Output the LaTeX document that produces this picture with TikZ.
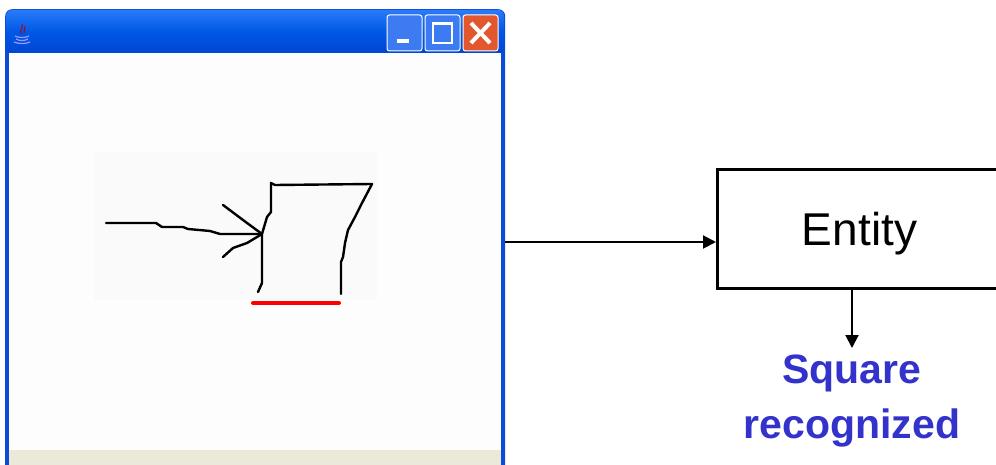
\documentclass[tikz,border=0pt]{standalone}
\usepackage{fontspec}
\setmainfont{Liberation Sans}
\usetikzlibrary{arrows.meta}
\definecolor{xpframe}{HTML}{0A4BD8}
\definecolor{xptop}{HTML}{2A7BFA}
\definecolor{xpmid}{HTML}{0058E6}
\definecolor{xpbot}{HTML}{0046D2}
\definecolor{xpclose}{HTML}{E2572E}
\definecolor{xpbtn}{HTML}{3D7BF2}
\definecolor{client}{HTML}{FDFDFD}
\definecolor{canvasbg}{HTML}{FAFAFA}
\definecolor{statusbg}{HTML}{ECE9D8}
\definecolor{labelblue}{HTML}{3333CC}
\tikzset{
  ink/.style={line width=2.4pt, line join=round, line cap=round, black},
  flow/.style={line width=2pt, -{Triangle[length=13pt,width=13pt]}},
  titlebtn/.style={draw=white, line width=1pt, rounded corners=2.5pt},
}
\begin{document}
\begin{tikzpicture}[x=1pt,y=-1pt]
\useasboundingbox (0,0) rectangle (996,465);
\clip (0,0) rectangle (996,465);
\fill[white] (0,0) rectangle (996,465);

% application window
\node[fill=xpframe, rounded corners=7pt, minimum width=500pt, minimum height=470pt,
      anchor=north west, inner sep=0pt] (win) at (5,9) {};
\shade[top color=xptop, bottom color=xpbot, middle color=xpmid, rounded corners=6pt]
  (6,53) -- (6,10) -- (504,10) -- (504,53) -- cycle;
\fill[client] (9,53) rectangle (501,470);
\fill[statusbg] (9,450) rectangle (501,470);

% title bar buttons
\fill[xpbtn, titlebtn] (387,15) rectangle (422,51);
\fill[white] (397,39) rectangle (409,43);
\fill[xpbtn, titlebtn] (425,15) rectangle (460,51);
\draw[white, line width=2pt] (433,23) rectangle (452,43);
\draw[white, line width=1pt] (433,25) -- (452,25);
\fill[xpclose, titlebtn] (463,15) rectangle (498,51);
\draw[white, line width=4pt] (471,23) -- (490,43) (490,23) -- (471,43);

% cup icon
\draw[red!70!black, line width=0.9pt] (21,34) .. controls (19,30) and (24,28) .. (22,24);
\draw[red!70!black, line width=0.9pt] (24,33) .. controls (23,30) and (26,29) .. (25,26);
\draw[blue!40!white, line width=1.2pt] (15,36) .. controls (18,38) and (26,38) .. (29,36);
\draw[blue!40!white, line width=1.2pt] (16,39) .. controls (19,41) and (25,41) .. (28,39);
\draw[blue!40!white, line width=1.2pt] (14,42) .. controls (18,44) and (26,44) .. (30,42);

% drawing surface
\fill[canvasbg] (94,152) rectangle (377,300);

% sketched arrow
\draw[ink] (106,223) -- (156,223) -- (162,227) -- (183,227) -- (188,229)
  -- (210,231) -- (220,234) -- (262,234);
\draw[ink] (223,205) -- (243,220) -- (262,234);
\draw[ink] (223,257) -- (233,248) -- (247,243) -- (262,234);

% sketched square
\draw[ink] (258,292) -- (262,283) -- (262,234) -- (267,217) -- (271,212)
  -- (271,183) -- (275,185) -- (372,184) -- (362,203) -- (355,217)
  -- (348,230) -- (345,243) -- (343,257) -- (341,262) -- (341,294);
\draw[red, line width=4pt, line cap=round] (253,303) -- (339,303);

% entity box and result
\node[draw, line width=3pt, minimum width=284pt, minimum height=119pt,
      anchor=north west, inner sep=0pt,
      font=\fontsize{46}{55}\selectfont] (ent) at (716,168)
  {\raisebox{-5pt}[\height][\depth]{Entity}};
\node[anchor=north, inner sep=0pt, align=center, text=labelblue,
      font=\fontsize{41}{55}\selectfont\bfseries] (res) at (852,355)
  {Square\\recognized};

\draw[flow] (win.east |- 0,242) -- (ent.west |- 0,242);
\draw[flow, shorten >=7pt] (res.north |- ent.south) -- (res.north);
\end{tikzpicture}
\end{document}
